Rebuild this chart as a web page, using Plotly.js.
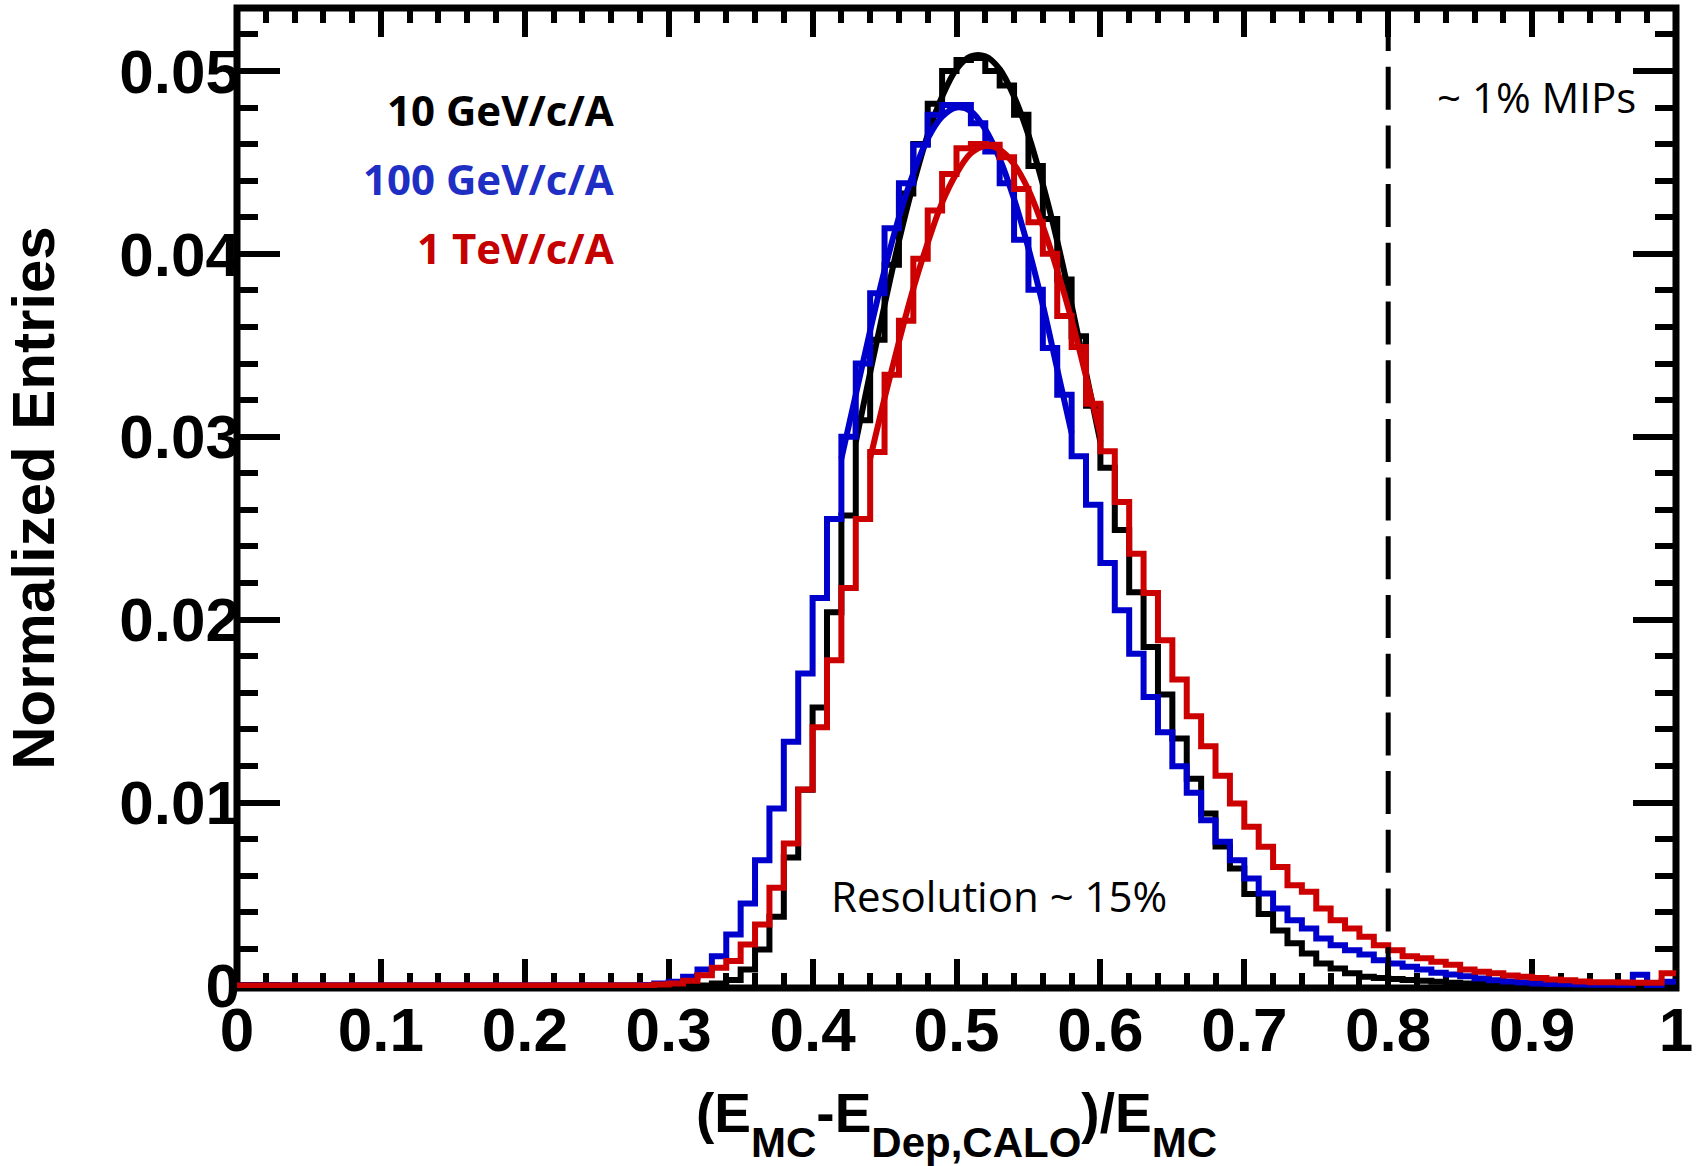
<!DOCTYPE html>
<html>
<head>
<meta charset="utf-8">
<script src="https://cdn.plot.ly/plotly-3.0.1.min.js"></script>
<style>
html,body{margin:0;padding:0;background:#fff;}
#chart{width:1697px;height:1166px;}
</style>
</head>
<body>
<div id="chart"></div>
<script>
// Histogram binning: 100 bins from 0 to 1
const BIN_LOW = 0;
const BIN_WIDTH = 0.01;

// 10 GeV/c/A (black)
const h10GeV = [
 0,0,0,0,0,0,0,0,0,0,
 0,0,0,0,0,0,0,0,0,0,
 0,0,0,0,0,0,0,0,0,0,
 0,0,0,0.0001,0.0003,0.00087,0.00197,0.00375,0.0070,0.0107,
 0.0152,0.0204,0.0257,0.0309,0.0353,0.0394,0.0433,0.0460,0.0482,0.0500,
 0.0506,0.0507,0.0500,0.0492,0.0476,0.0448,0.0419,0.0386,0.0355,0.0317,
 0.0283,0.0249,0.0215,0.0185,0.0159,0.0135,0.0113,0.0094,0.0076,0.0064,
 0.0050,0.0039,0.0030,0.0023,0.00175,0.0012,0.00093,0.00066,0.00047,0.0004,
 0.00035,0.0003,0.00025,0.0002,0.00015,0.0001,0.00008,0.00006,0.00004,0.00003,
 0.00003,0.00002,0.00002,0.00002,0.00001,0.00001,0.00001,0.00001,0.00001,0.00001
];

// 100 GeV/c/A (blue)
const h100GeV = [
 0,0,0,0,0,0,0,0,0,0,
 0,0,0,0,0,0,0,0,0,0,
 0,0,0,0,0,0,0,0,0.00003,0.0001,
 0.0002,0.00047,0.00087,0.0016,0.00279,0.00448,0.00685,0.00967,0.01332,0.01705,
 0.02118,0.0255,0.0300,0.0340,0.03785,0.0414,0.04386,0.04596,0.0476,0.04814,
 0.04814,0.04714,0.04559,0.04386,0.04077,0.03803,0.03485,0.0323,0.02893,0.02628,
 0.0231,0.02051,0.01814,0.01577,0.01384,0.01199,0.01053,0.00903,0.00785,0.00685,
 0.00585,0.00503,0.00421,0.00357,0.00311,0.00257,0.0022,0.00193,0.00169,0.00138,
 0.0012,0.00102,0.00087,0.00069,0.0006,0.0005,0.00038,0.00029,0.00022,0.00016,
 0.00011,0.00008,0.00006,0.00005,0.00004,0.00004,0.00003,0.00058,0.00003,0.0002
];

// 1 TeV/c/A (red)
const h1TeV = [
 0,0,0,0,0,0,0,0,0,0,
 0,0,0,0,0,0,0,0,0,0,
 0,0,0,0,0,0,0,0,0,0.00005,
 0.0001,0.00025,0.00056,0.00097,0.00133,0.00224,0.00333,0.00534,0.00776,0.01071,
 0.01412,0.01778,0.02173,0.0255,0.02916,0.03339,0.03634,0.03973,0.04237,0.04437,
 0.04577,0.0460,0.04596,0.04528,0.04355,0.04173,0.0400,0.0366,0.0349,0.0318,
 0.0292,0.02643,0.0236,0.02146,0.01887,0.01672,0.01472,0.01308,0.01147,0.00995,
 0.00867,0.00758,0.00648,0.00548,0.00512,0.00421,0.00357,0.00311,0.00266,0.0022,
 0.00193,0.0016,0.00148,0.00129,0.00113,0.00087,0.00075,0.00066,0.00055,0.00047,
 0.0004,0.00033,0.00029,0.00022,0.00018,0.00018,0.00016,0.00015,0.00015,0.00067
];

// Fit curves
const fit10GeV_x = [0.43,0.44,0.45,0.46,0.47,0.48,0.49,0.50,0.51,0.52,0.53,0.54,0.55,0.56,0.57,0.58,0.59,0.60];
const fit10GeV_y = [0.0297,0.0335,0.0372,0.0407,0.0438,0.0465,0.0486,0.0501,0.0508,0.0508,0.0501,0.0486,0.0465,0.0438,0.0407,0.0372,0.0335,0.0297];
const fit100GeV_x = [0.42,0.43,0.44,0.45,0.46,0.47,0.48,0.49,0.50,0.51,0.52,0.53,0.54,0.55,0.56,0.57,0.58];
const fit100GeV_y = [0.0288,0.0323,0.0358,0.0391,0.0420,0.0444,0.0463,0.0475,0.0480,0.0478,0.0468,0.0452,0.0430,0.0403,0.0372,0.0337,0.0302];
const fit1TeV_x = [0.44,0.45,0.46,0.47,0.48,0.49,0.50,0.51,0.52,0.53,0.54,0.55,0.56,0.57,0.58,0.59,0.60];
const fit1TeV_y = [0.0288,0.0321,0.0352,0.0381,0.0406,0.0428,0.0444,0.0455,0.0459,0.0457,0.0449,0.0435,0.0415,0.0391,0.0364,0.0333,0.0301];

const MIP_CUT = 0.8;
const seriesLabels = ['10 GeV/c/A', '100 GeV/c/A', '1 TeV/c/A'];
const lineColors = ['#000000', '#0000cc', '#cc0000'];
const textColors = ['#000000', '#1f2fc4', '#c40000'];

function histTrace(vals, color, name) {
  const x = vals.map((_, i) => BIN_LOW + i * BIN_WIDTH);
  x.push(BIN_LOW + vals.length * BIN_WIDTH);
  const y = vals.concat([vals[vals.length - 1]]);
  return {type: 'scatter', mode: 'lines', name: name, x: x, y: y,
          line: {color: color, width: 6, shape: 'hv'}, hoverinfo: 'skip'};
}
function fitTrace(x, y, color, name) {
  return {type: 'scatter', mode: 'lines', name: name + ' fit', x: x, y: y,
          line: {color: color, width: 6, shape: 'spline', smoothing: 1}, hoverinfo: 'skip'};
}

const traces = [
  histTrace(h10GeV, lineColors[0], seriesLabels[0]),
  fitTrace(fit10GeV_x, fit10GeV_y, lineColors[0], seriesLabels[0]),
  histTrace(h100GeV, lineColors[1], seriesLabels[1]),
  fitTrace(fit100GeV_x, fit100GeV_y, lineColors[1], seriesLabels[1]),
  histTrace(h1TeV, lineColors[2], seriesLabels[2]),
  fitTrace(fit1TeV_x, fit1TeV_y, lineColors[2], seriesLabels[2])
];

const SUB = (s) => '<sub><sub><sub><span style="font-size:42px">' + s + '</span></sub></sub></sub>';
const xTitle = '(E' + SUB('MC') + '-E' + SUB('Dep,CALO') + ')/E' + SUB('MC');

const tickFont = {family: 'Liberation Sans, Arial, sans-serif', size: 62, color: '#000', weight: 'bold'};
const annFont = 'Open Sans, Noto Sans, sans-serif';

const layout = {
  width: 1697, height: 1166,
  margin: {l: 236.5, r: 21.2, t: 7.5, b: 177.5, pad: 0},
  paper_bgcolor: '#ffffff',
  plot_bgcolor: 'rgba(0,0,0,0)',
  showlegend: false,
  font: {family: 'Liberation Sans, Arial, sans-serif', color: '#000'},
  xaxis: {
    range: [0, 1], tick0: 0, dtick: 0.1,
    ticks: 'inside', ticklen: 29, tickwidth: 6, tickcolor: '#000',
    mirror: 'ticks', showline: false, linewidth: 0, layer: 'below traces',
    showgrid: false, zeroline: false,
    tickfont: tickFont, ticklabelstandoff: 0,
    minor: {dtick: 0.02, ticks: 'inside', ticklen: 15, tickwidth: 6, tickcolor: '#000', showgrid: false},
    title: {text: xTitle, font: {family: 'Liberation Sans, Arial, sans-serif', size: 55, weight: 'bold', color: '#000'}, standoff: 44}
  },
  yaxis: {
    range: [-0.00014, 0.05344], tick0: 0, dtick: 0.01,
    ticks: 'inside', ticklen: 43, tickwidth: 6, tickcolor: '#000',
    mirror: 'ticks', showline: false, linewidth: 0, layer: 'below traces',
    showgrid: false, zeroline: false,
    tickfont: tickFont, ticklabelstandoff: -4,
    minor: {dtick: 0.002, ticks: 'inside', ticklen: 21, tickwidth: 6, tickcolor: '#000', showgrid: false},
    title: {text: 'Normalized Entries', font: {family: 'Liberation Sans, Arial, sans-serif', size: 60, weight: 'bold', color: '#000'}, standoff: 47}
  },
  shapes: [
    {type: 'rect', xref: 'paper', yref: 'paper', x0: 0, x1: 1, y0: 0, y1: 1,
     line: {color: '#000', width: 7}, fillcolor: 'rgba(0,0,0,0)', layer: 'below'},
    {type: 'line', xref: 'x', yref: 'paper', x0: MIP_CUT, x1: MIP_CUT, y0: 1, y1: 0,
     line: {color: '#000', width: 5, dash: '43px,15.7px'}, layer: 'above'}
  ],
  annotations: [
    {text: seriesLabels[0], xref: 'paper', yref: 'paper', x: 0.2637, y: 0.8965, xanchor: 'right', yanchor: 'middle', showarrow: false,
     font: {family: annFont, size: 42, weight: 'bold', color: textColors[0]}},
    {text: seriesLabels[1], xref: 'paper', yref: 'paper', x: 0.2637, y: 0.8262, xanchor: 'right', yanchor: 'middle', showarrow: false,
     font: {family: annFont, size: 42, weight: 'bold', color: textColors[1]}},
    {text: seriesLabels[2], xref: 'paper', yref: 'paper', x: 0.2637, y: 0.7554, xanchor: 'right', yanchor: 'middle', showarrow: false,
     font: {family: annFont, size: 42, weight: 'bold', color: textColors[2]}},
    {text: '~ 1% MIPs', xref: 'paper', yref: 'paper', x: 0.9029, y: 0.9098, xanchor: 'center', yanchor: 'middle', showarrow: false,
     font: {family: annFont, size: 42, color: '#000'}},
    {text: 'Resolution ~ 15%', xref: 'paper', yref: 'paper', x: 0.5298, y: 0.0943, xanchor: 'center', yanchor: 'middle', showarrow: false,
     font: {family: annFont, size: 42, color: '#000'}}
  ]
};

Plotly.newPlot('chart', traces, layout, {staticPlot: true, displayModeBar: false});
</script>
</body>
</html>
